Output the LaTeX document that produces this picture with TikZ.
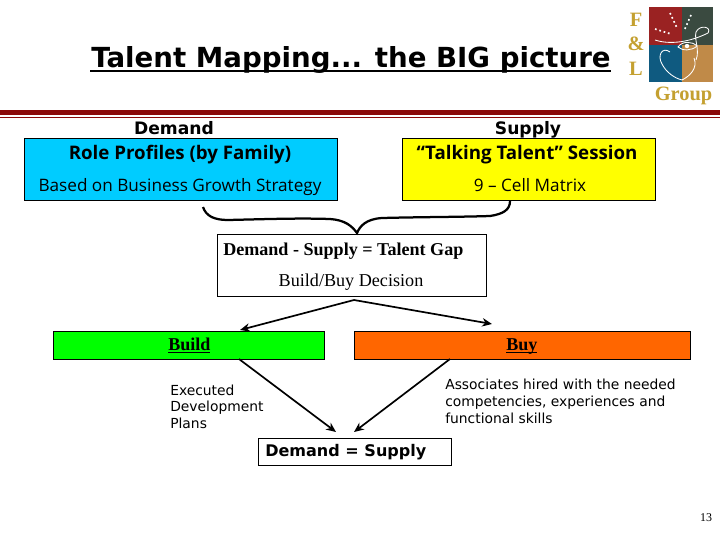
\documentclass[tikz,border=0pt]{standalone}
\usepackage{fontspec}
\setmainfont{Liberation Serif}
\newfontfamily\verdanafont{DejaVu Sans}
\newfontfamily\tahomafont{Open Sans}
\usepackage{tikz}
\usetikzlibrary{arrows.meta}
\definecolor{bandred}{HTML}{8B0A0A}
\definecolor{roleblue}{HTML}{00CCFF}
\definecolor{supplyyellow}{HTML}{FFFF00}
\definecolor{buildgreen}{HTML}{00FF00}
\definecolor{buyorange}{HTML}{FF6600}
\definecolor{logogold}{HTML}{C4A030}
\definecolor{logored}{HTML}{9A2222}
\definecolor{logogreen}{HTML}{3A4A40}
\definecolor{logoblue}{HTML}{0F5A80}
\definecolor{logotan}{HTML}{C08A48}

\begin{document}
\begin{tikzpicture}[
        x=0.025cm,
        y=-0.025cm,
        >=Stealth,
        box/.style={
            draw,
            line width=0.5pt,
            inner sep=0pt
        },
        txt/.style={
            inner sep=0pt,
            anchor=base
        },
        txtleft/.style={
            txt,
            anchor=base west
        },
        verdana/.style={font=\verdanafont\fontsize{9.85}{12}\selectfont},
        heading/.style={font=\verdanafont\bfseries\fontsize{12.2}{14}\selectfont},
        tahoma/.style={font=\tahomafont\fontsize{12.2}{14}\selectfont},
        tahomabold/.style={font=\tahomafont\bfseries\fontsize{13.3}{15}\selectfont},
        serif/.style={font=\fontsize{12.9}{14}\selectfont},
        serifbold/.style={font=\bfseries\fontsize{12.85}{14}\selectfont},
        logotext/.style={
            txt,
            text=logogold,
            font=\bfseries\fontsize{14.5}{16}\selectfont
        },
        arrow/.style={-{Stealth[length=7pt,width=6pt]}, line width=1.2pt},
        logoline/.style={white, line width=0.6pt},
        logodots/.style={white, line width=1.2pt, dash pattern=on 1.2pt off 2pt}
    ]
    \useasboundingbox (0,0) rectangle (720,540);

    % title and band
    \node[txtleft, font=\verdanafont\bfseries\fontsize{19.65}{22}\selectfont] (title) at (91,67) {Talent Mapping... the BIG picture};
    \draw[line width=1.5pt] (90,71) -- (611,71);
    \fill[bandred] (0,110) rectangle (720,115);
    \fill[bandred] (0,116.5) rectangle (720,117.8);

    % logo
    \fill[logored] (649,7) rectangle (682,45);
    \fill[logogreen] (682,7) rectangle (713,45);
    \fill[logoblue] (649,45) rectangle (682,82);
    \fill[logotan] (682,45) rectangle (713,82);
    \draw[logodots] (670,13) -- (677,28);
    \draw[logodots] (655,29) -- (671,34);
    \draw[logodots] (691,15) -- (684,31);
    \draw[logoline] (655,40) .. controls (670,45) and (690,42) .. (708,33)
        .. controls (712,27) and (700,24) .. (696,32) .. controls (694,40) and (700,50) .. (696,60);
    \draw[logoline] (678,47) .. controls (682,41) and (692,41) .. (697,46) .. controls (692,51) and (682,51) .. (678,47) -- cycle;
    \fill[white] (687,46) circle (2.2);
    \draw[logoline] (670,52) .. controls (662,46) and (657,56) .. (662,64) .. controls (666,72) and (674,78) .. (682,80);
    \draw[logoline] (694,58) .. controls (698,68) and (690,76) .. (682,80);
    \node[logotext] (letterf) at (636,26) {F};
    \node[logotext] (letteramp) at (636,50) {\&};
    \node[logotext] (letterl) at (636,75) {L};
    \node[logotext] (group) at (683.5,100.5) {Group};

    % demand and supply
    \node[txt, heading] (demand) at (174,134.5) {Demand};
    \node[txt, heading] (supply) at (528,134.5) {Supply};
    \node[box, fill=roleblue, minimum width=7.825cm, minimum height=1.55cm] (rolebox) at (180.5,169) {};
    \node[box, fill=supplyyellow, minimum width=6.325cm, minimum height=1.55cm] (matrixbox) at (528.5,169) {};
    \node[txt, tahomabold] (role) at (180,159) {Role Profiles (by Family)};
    \node[txt, tahoma] (based) at (180,191.5) {Based on Business Growth Strategy};
    \node[txt, tahomabold] (talking) at (527,159) {“Talking Talent” Session};
    \node[txt, tahoma] (cell) at (530,191.5) {9 – Cell Matrix};

    % gap box
    \node[box, minimum width=6.725cm, minimum height=1.55cm] (gapbox) at (351.5,265) {};
    \node[txtleft, serifbold] (gap) at (223,255) {Demand - Supply = Talent Gap};
    \node[txt, serif] (decision) at (351,286.5) {Build/Buy Decision};

    % brace from both boxes
    \coordinate (bracel) at (203,207);
    \coordinate (bracetip) at (357,233);
    \coordinate (bracer) at (510,201);
    \draw[line width=1.6pt] (bracel) .. controls (206,216) and (214,220) .. (228,220)
        .. controls (270,219) and (300,218) .. (330,219) .. controls (345,220) and (352,226) .. (bracetip)
        .. controls (360,226) and (366,219) .. (382,218) .. controls (420,217) and (460,217) .. (490,216)
        .. controls (503,214) and (510,210) .. (bracer);

    % build and buy
    \node[box, fill=buildgreen, minimum width=6.775cm, minimum height=0.7cm] (build) at (188.5,345) {};
    \node[box, fill=buyorange, minimum width=8.4cm, minimum height=0.7cm] (buy) at (522,345) {};
    \node[txtleft, serifbold] (buildtext) at (168,350) {Build};
    \node[txtleft, serifbold] (buytext) at (506,350) {Buy};
    \draw[line width=0.7pt] (168,352) -- (210,352);
    \draw[line width=0.7pt] (506,352) -- (537,352);

    \coordinate (apex) at (354,300);
    \coordinate (buildin) at (240,330);
    \coordinate (buyin) at (492,324);
    \draw[arrow] (apex) -- (buildin);
    \draw[arrow] (apex) -- (buyin);

    % notes
    \node[txtleft, verdana] (exec1) at (170,395) {Executed};
    \node[txtleft, verdana] (exec2) at (170,411.5) {Development};
    \node[txtleft, verdana] (exec3) at (170,428) {Plans};
    \node[txtleft, verdana] (hire1) at (445,389) {Associates hired with the needed};
    \node[txtleft, verdana] (hire2) at (445,406) {competencies, experiences and};
    \node[txtleft, verdana] (hire3) at (445,423) {functional skills};

    % result
    \node[box, minimum width=4.825cm, minimum height=0.675cm] (resultbox) at (354.5,451.5) {};
    \node[txtleft, font=\verdanafont\bfseries\fontsize{11.4}{14}\selectfont] (result) at (265,456.5) {Demand = Supply};
    \coordinate (buildout) at (239,359);
    \coordinate (buyout) at (450,359);
    \coordinate (resultl) at (336,432);
    \coordinate (resultr) at (354,432);
    \draw[arrow] (buildout) -- (resultl);
    \draw[arrow] (buyout) -- (resultr);

    \node[txt, font=\fontsize{8.5}{10}\selectfont] (pagenum) at (706,521) {13};
\end{tikzpicture}
\end{document}
